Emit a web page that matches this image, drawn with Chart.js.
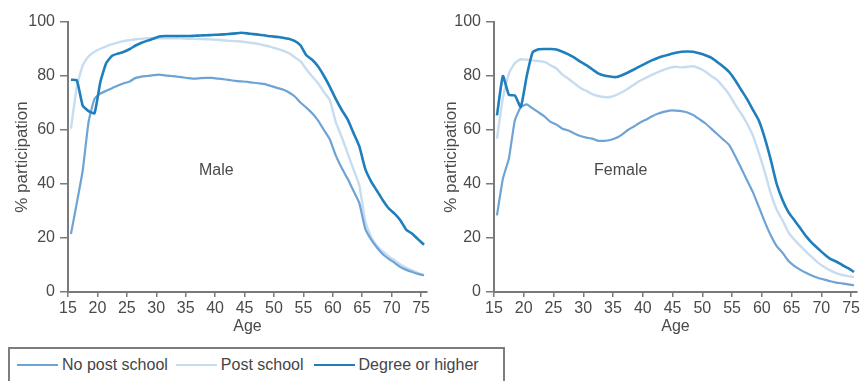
<!DOCTYPE html>
<html>
<head>
<meta charset="utf-8">
<script src="https://cdn.jsdelivr.net/npm/chart.js@4.4.1/dist/chart.umd.min.js"></script>
<style>
  html, body { margin: 0; padding: 0; background: #fff; width: 862px; height: 381px; overflow: hidden;
    font-family: "Liberation Sans", Arial, sans-serif; }
  #male { position: absolute; left: 0; top: 0; }
  #female { position: absolute; left: 430px; top: 0; }
  #legend { position: absolute; left: 8px; top: 347px; width: 493px; height: 44px;
    border: 2px solid #7d7d7d; box-sizing: content-box; display: flex; align-items: flex-start;
    padding-top: 6px; font-size: 16px; color: #454545; white-space: nowrap; }
  .item { display: flex; align-items: center; height: 20px; }
  .swatch { display: inline-block; width: 41px; height: 2px; margin-right: 4px; }
</style>
</head>
<body>
<canvas id="male" width="432" height="340"></canvas>
<canvas id="female" width="432" height="340"></canvas>
<div id="legend"></div>

<script>
// Single years of age, 15 to 75
const ages = [];
for (let a = 15; a <= 75; a++) ages.push(a);

const seriesNames = ['No post school', 'Post school', 'Degree or higher'];
const panelNames = ['Male', 'Female'];
const xTicks = [15, 20, 25, 30, 35, 40, 45, 50, 55, 60, 65, 70, 75];
const yTicks = [0, 20, 40, 60, 80, 100];

// Labour force participation (%), males
const maleNoPostSchool = [
  21.5, 33, 45, 63, 71.5, 73.5, 74.5, 75.5, 76.5, 77.3,
  78, 79.3, 79.8, 80, 80.3, 80.5, 80.2, 80, 79.8, 79.5,
  79.2, 79, 79.2, 79.3, 79.3, 79, 78.8, 78.5, 78.2, 78,
  77.8, 77.5, 77.3, 77, 76.3, 75.6, 75, 74, 72.5, 70.2,
  68.3, 66.2, 63.5, 60, 56.5, 50.6, 46, 42, 37.5, 33,
  23.5, 19.5, 16.5, 14, 12.3, 10.8, 9.2, 8.2, 7.4, 6.7, 6.2
];
const malePostSchool = [
  60.5, 76, 84, 87.3, 89, 90.1, 91, 91.8, 92.4, 93,
  93.3, 93.6, 93.8, 94, 94, 94, 94, 94, 94, 93.9,
  93.8, 93.8, 93.7, 93.6, 93.5, 93.4, 93.2, 93, 92.9, 92.8,
  92.4, 92.2, 91.8, 91.3, 90.8, 90.1, 89.4, 88.5, 87, 85.5,
  82.5, 79.8, 77.3, 74, 71, 63, 57.5, 51.5, 45.5, 39.5,
  26.5, 20.5, 17, 15, 13.2, 11.7, 10.2, 9, 8, 7, 6.2
];
const maleDegree = [
  78.6, 78.4, 69, 67, 66.2, 77.8, 84.8, 87.5, 88.3, 89,
  90, 91.3, 92.3, 93.1, 93.8, 94.6, 94.8, 94.8, 94.8, 94.8,
  94.8, 94.9, 95, 95.1, 95.2, 95.3, 95.4, 95.6, 95.8, 96,
  95.8, 95.5, 95.3, 95, 94.7, 94.5, 94.2, 93.8, 93, 91.4,
  87.7, 86, 83.5, 80, 76, 71.5, 67.5, 64, 59, 54,
  45.7, 41, 37.5, 34, 31, 29, 26.5, 23, 21.6, 19.5, 17.5
];

// Labour force participation (%), females
const femaleNoPostSchool = [
  28.4, 42, 49.4, 63.5, 68.5, 69.5, 68, 66.5, 65, 63,
  62, 60.5, 59.8, 58.7, 57.8, 57.2, 56.8, 56, 56, 56.3,
  57, 58.3, 60, 61.3, 62.7, 63.8, 65, 66, 66.7, 67.2,
  67.2, 67, 66.5, 65.5, 64, 62.5, 60.5, 58.5, 56.5, 54.5,
  50.5, 46, 41.5, 37, 31.5, 26, 21, 17, 14.5, 11.5,
  9.6, 8.2, 7, 6, 5.2, 4.6, 4, 3.5, 3.2, 2.8, 2.5
];
const femalePostSchool = [
  56.8, 72, 80.9, 84.8, 86.2, 86, 85.8, 85.5, 85.2, 84,
  82.8, 80.5, 79, 77.3, 75.6, 74.5, 73.3, 72.6, 72.2, 72.2,
  72.9, 74, 75.3, 76.8, 78.2, 79.3, 80.4, 81.4, 82.3, 83,
  83.4, 83.2, 83.4, 83.6, 82.8, 81.7, 80, 78.5, 76, 73.2,
  69.5, 66.2, 62.5, 58, 51.5, 44.5, 36.5, 30.5, 26.5, 22,
  19.3, 17, 14.8, 12.8, 10.8, 9.3, 8, 7, 6.3, 5.9, 5.5
];
const femaleDegree = [
  65.4, 80, 73, 72.8, 68.5, 80, 88.8, 89.9, 90, 90,
  89.8, 89, 88, 86.8, 85.3, 84, 82.5, 81, 80.2, 79.8,
  79.6, 80.3, 81.3, 82.4, 83.6, 84.7, 85.8, 86.7, 87.4, 88,
  88.6, 89, 89.1, 89, 88.4, 87.7, 86.8, 85.2, 83.5, 81.5,
  78.5, 75, 71.5, 67.5, 63.5, 57, 49, 40, 34, 29.5,
  26.5, 23.5, 20.5, 18, 16, 14, 12.3, 11.3, 10, 8.8, 7.4
];

const lineColours = ['#6ea3d6', '#c8dcf0', '#1f7fbd'];
const lineWidths = [2.2, 2.4, 2.6];
const drawOrder = [1, 2, 0];
const textColour = '#4a4a4a';
const axisColour = '#7a7a7a';
const fontFamily = '"Liberation Sans", Arial, sans-serif';

// Each value is the rate for a single year of age, placed at the middle of that year
const toPoints = vals => ages.map((a, i) => ({ x: a + 0.5, y: vals[i] }));

const panelLabel = {
  id: 'panelLabel',
  afterDatasetsDraw(chart, args, opts) {
    const { ctx, scales: { x, y } } = chart;
    ctx.save();
    ctx.font = '16px ' + fontFamily;
    ctx.fillStyle = textColour;
    ctx.textAlign = 'center';
    ctx.textBaseline = 'middle';
    ctx.fillText(opts.text, x.getPixelForValue(opts.x), y.getPixelForValue(opts.y));
    ctx.restore();
  }
};

function makeChart(id, series, name, labelAt, axisWidth, titlePad) {
  return new Chart(document.getElementById(id), {
    type: 'line',
    data: {
      datasets: series.map((vals, i) => ({
        label: seriesNames[i],
        data: toPoints(vals),
        borderColor: lineColours[i],
        borderWidth: lineWidths[i],
        pointRadius: 0,
        tension: 0.15,
        fill: false,
        order: drawOrder[i]
      }))
    },
    options: {
      responsive: false,
      animation: false,
      devicePixelRatio: 1,
      layout: { padding: { top: 22, right: 2, bottom: 0, left: 0 } },
      plugins: {
        legend: { display: false },
        tooltip: { enabled: false },
        panelLabel: { text: name, x: labelAt[0], y: labelAt[1] }
      },
      scales: {
        x: {
          type: 'linear',
          min: 15,
          max: 76,
          afterFit: s => { s.height = 48; },
          afterBuildTicks: s => { s.ticks = xTicks.map(v => ({ value: v })); },
          ticks: { color: textColour, font: { family: fontFamily, size: 16 }, padding: 2,
            maxRotation: 0, autoSkip: false },
          grid: { drawOnChartArea: false, drawTicks: true, tickLength: 5, color: axisColour, lineWidth: 1.5 },
          border: { display: true, color: axisColour, width: 2 },
          title: { display: true, text: 'Age', color: textColour,
            font: { family: fontFamily, size: 16 }, padding: { top: 0, bottom: 4 } }
        },
        y: {
          min: 0,
          max: 100,
          afterFit: s => { s.width = axisWidth; },
          afterBuildTicks: s => { s.ticks = yTicks.map(v => ({ value: v })); },
          ticks: { color: textColour, font: { family: fontFamily, size: 16 }, padding: 5 },
          grid: { drawOnChartArea: false, drawTicks: true, tickLength: 8, color: axisColour, lineWidth: 1.5 },
          border: { display: true, color: axisColour, width: 2 },
          title: { display: true, text: '% participation', color: textColour,
            font: { family: fontFamily, size: 17 }, padding: { top: titlePad, bottom: 0 } }
        }
      }
    },
    plugins: [panelLabel]
  });
}

makeChart('male', [maleNoPostSchool, malePostSchool, maleDegree], panelNames[0], [40.2, 45], 68, 12);
makeChart('female', [femaleNoPostSchool, femalePostSchool, femaleDegree], panelNames[1], [36.3, 45], 64, 11);

// Shared key below the two panels
const legend = document.getElementById('legend');
const gaps = [8, 10, 0];
seriesNames.forEach((n, i) => {
  const item = document.createElement('span');
  item.className = 'item';
  item.style.marginLeft = (i === 0 ? 7 : gaps[i - 1]) + 'px';
  const sw = document.createElement('span');
  sw.className = 'swatch';
  sw.style.background = lineColours[i];
  item.appendChild(sw);
  item.appendChild(document.createTextNode(n));
  legend.appendChild(item);
});
</script>
</body>
</html>
